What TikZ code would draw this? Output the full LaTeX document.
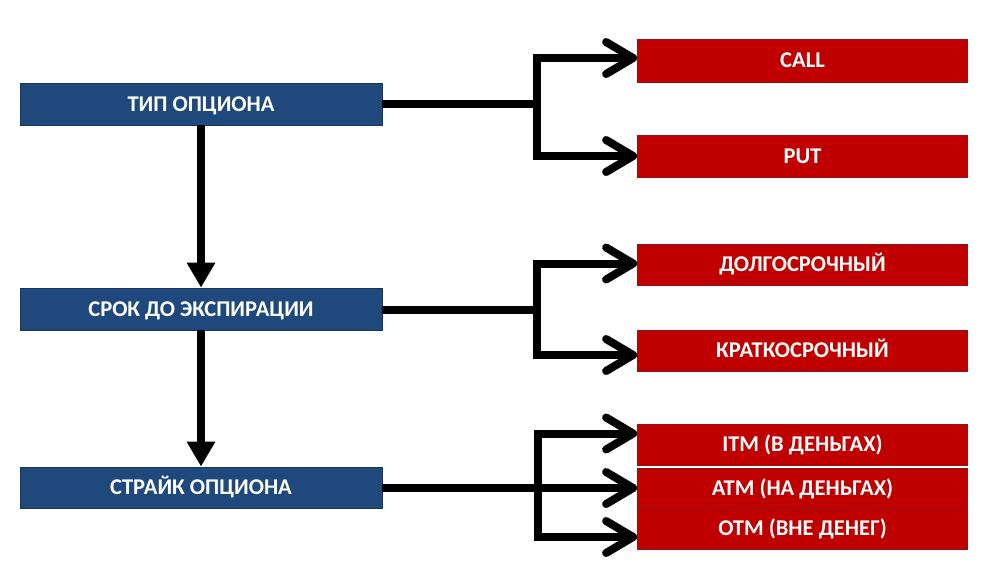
\documentclass[tikz,border=0pt]{standalone}
\usepackage{fontspec}
\setmainfont{Carlito}
\usetikzlibrary{arrows.meta}
\definecolor{boxblue}{RGB}{31,73,125}
\definecolor{boxblueline}{RGB}{23,55,94}
\definecolor{boxred}{RGB}{192,0,0}
\definecolor{boxredline}{RGB}{140,20,20}
\begin{document}
\begin{tikzpicture}[x=1pt,y=-1pt,
  boxtext/.style={text=white,font=\bfseries\fontsize{22.5}{24}\selectfont,text height=14.5pt,text depth=0pt,inner sep=0pt,anchor=center},
  bluebox/.style={boxtext,draw=boxblueline,line width=0.8pt,fill=boxblue,minimum width=362pt,minimum height=42pt},
  redbox/.style={boxtext,draw=boxredline,line width=0.8pt,fill=boxred,minimum width=330pt,minimum height=41pt},
  conn/.style={line width=8pt,black},
  branch/.style={conn,-{Straight Barb[length=27pt,width=32pt,round]}},
  down/.style={conn,-{Triangle[length=25pt,width=27pt]}}]
\useasboundingbox (0,0) rectangle (994,582);
\fill[white] (0,0) rectangle (994,582);
% left boxes
\node[bluebox] (tip) at (201,104) {ТИП ОПЦИОНА};
\node[bluebox] (srok) at (201,309) {СРОК ДО ЭКСПИРАЦИИ};
\node[bluebox,minimum height=41pt] (strike) at (201,487.5) {СТРАЙК ОПЦИОНА};
% right boxes
\node[redbox,minimum height=43pt] (call) at (802.5,60.5) {CALL};
\node[redbox,minimum height=42pt] (put) at (802.5,156) {PUT};
\node[redbox] (long) at (802.5,264.5) {ДОЛГОСРОЧНЫЙ};
\node[redbox] (short) at (802.5,350.5) {КРАТКОСРОЧНЫЙ};
\node[redbox] (itm) at (802.5,444.5) {ITM (В ДЕНЬГАХ)};
\node[redbox,minimum height=40pt] (atm) at (802.5,488) {ATM (НА ДЕНЬГАХ)};
\node[redbox] (otm) at (802.5,528.5) {OTM (ВНЕ ДЕНЕГ)};
% junctions
\coordinate (j1) at (537,104);
\coordinate (j2) at (537,310);
\coordinate (j3) at (538,488);
% vertical arrows
\draw[down] (tip.south) -- (srok.north);
\draw[down] (srok.south) -- (strike.north);
% group 1
\draw[conn] (tip.east |- j1) -- (j1);
\draw[branch] (j1) |- ([yshift=2.5pt]call.west);
\draw[branch] (j1) |- (put.west);
% group 2
\draw[conn] (srok.east |- j2) -- (j2);
\draw[branch] (j2) |- ([yshift=1pt]long.west);
\draw[branch] (j2) |- ([yshift=-4.5pt]short.west);
% group 3
\draw[conn] (strike.east |- j3) -- (j3);
\draw[branch] (j3) |- ([yshift=11pt]itm.west);
\draw[branch] (j3) -- (atm.west);
\draw[branch] (j3) |- ([yshift=-8.5pt]otm.west);
\end{tikzpicture}
\end{document}
